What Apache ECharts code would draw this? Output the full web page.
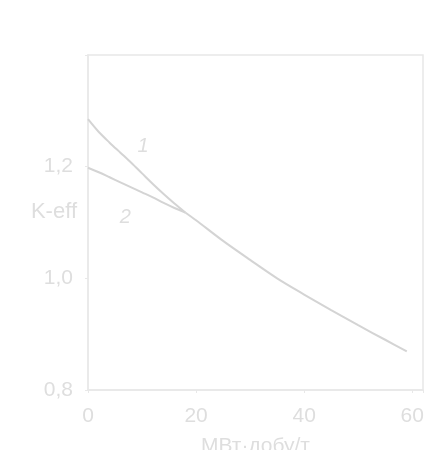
<!DOCTYPE html>
<html><head><meta charset="utf-8">
<script src="https://cdn.jsdelivr.net/npm/echarts@6/dist/echarts.min.js"></script>
<style>html,body{margin:0;padding:0;background:#fff}#c{width:446px;height:450px}</style>
</head><body><div id="c"></div>
<script>
const xLabelTicks = [0, 20, 40, 60];
const yLabelTicks = ['0,8', '1,0', '1,2'];
const curve1 = [[0,1.285],[2,1.262],[4,1.243],[6,1.225],[8,1.207],[10,1.188],[12,1.169],[14,1.151],[16,1.134],[18,1.118]];
const curve2 = [[0,1.198],[2,1.190],[4,1.181],[6,1.172],[8,1.163],[10,1.154],[12,1.145],[14,1.135],[16,1.126],[18,1.118]];
const common = [[18,1.118],[20,1.104],[25,1.067],[30,1.033],[35,1.000],[40,0.971],[45,0.943],[50,0.916],[55,0.890],[59,0.869]];
const curveLabels = [{name:'1', coord:[10.2,1.236]}, {name:'2', coord:[6.9,1.109]}];

const txt = '#dedede', ln = '#d4d4d4', frame = '#e8e8e8';
const font = 'Liberation Sans, Arial, sans-serif';
const chart = echarts.init(document.getElementById('c'), null, {renderer:'canvas'});
chart.setOption({
  animation:false,
  backgroundColor:'#fff',
  grid:{left:88, right:23, top:55, bottom:60, show:true, borderColor:frame, borderWidth:1.5,
        containLabel:false, outerBoundsMode:'none'},
  xAxis:{type:'value', min:0, max:62, interval:20,
    name:'МВт·добу/т', nameLocation:'middle', nameGap:46, nameMoveOverlap:false,
    nameTextStyle:{color:txt, fontSize:21, fontFamily:font},
    axisLine:{lineStyle:{color:frame, width:1.5}},
    axisTick:{show:true, length:3, lineStyle:{color:frame}},
    splitLine:{show:false},
    axisLabel:{color:txt, fontSize:21, fontFamily:font, margin:16,
      formatter:v=> xLabelTicks.includes(v) ? String(v) : ''}},
  yAxis:{type:'value', min:0.8, max:1.4, interval:0.2,
    name:'K-eff', nameLocation:'middle', nameRotate:0, nameGap:11, nameMoveOverlap:false,
    nameTextStyle:{color:txt, fontSize:22, fontFamily:font, verticalAlign:'bottom'},
    axisLine:{show:true, lineStyle:{color:frame, width:1.5}},
    axisTick:{show:true, length:3, lineStyle:{color:frame}},
    splitLine:{show:false},
    axisLabel:{color:txt, fontSize:21, fontFamily:font, margin:15,
      formatter:v=>{const s=v.toFixed(1).replace('.',','); return yLabelTicks.includes(s)?s:'';}}},
  series:[
    {type:'line', data:curve1, smooth:0.3, symbol:'none', lineStyle:{color:ln, width:2},
     markPoint:{symbol:'circle', symbolSize:0, data:curveLabels.map(d=>({coord:d.coord, value:d.name})),
       label:{show:true, formatter:p=>p.value, color:txt, fontSize:20, fontStyle:'italic', fontFamily:font}}},
    {type:'line', data:curve2, smooth:0.3, symbol:'none', lineStyle:{color:ln, width:2}},
    {type:'line', data:common, smooth:0.3, symbol:'none', lineStyle:{color:ln, width:2}}
  ]
});
</script></body></html>
